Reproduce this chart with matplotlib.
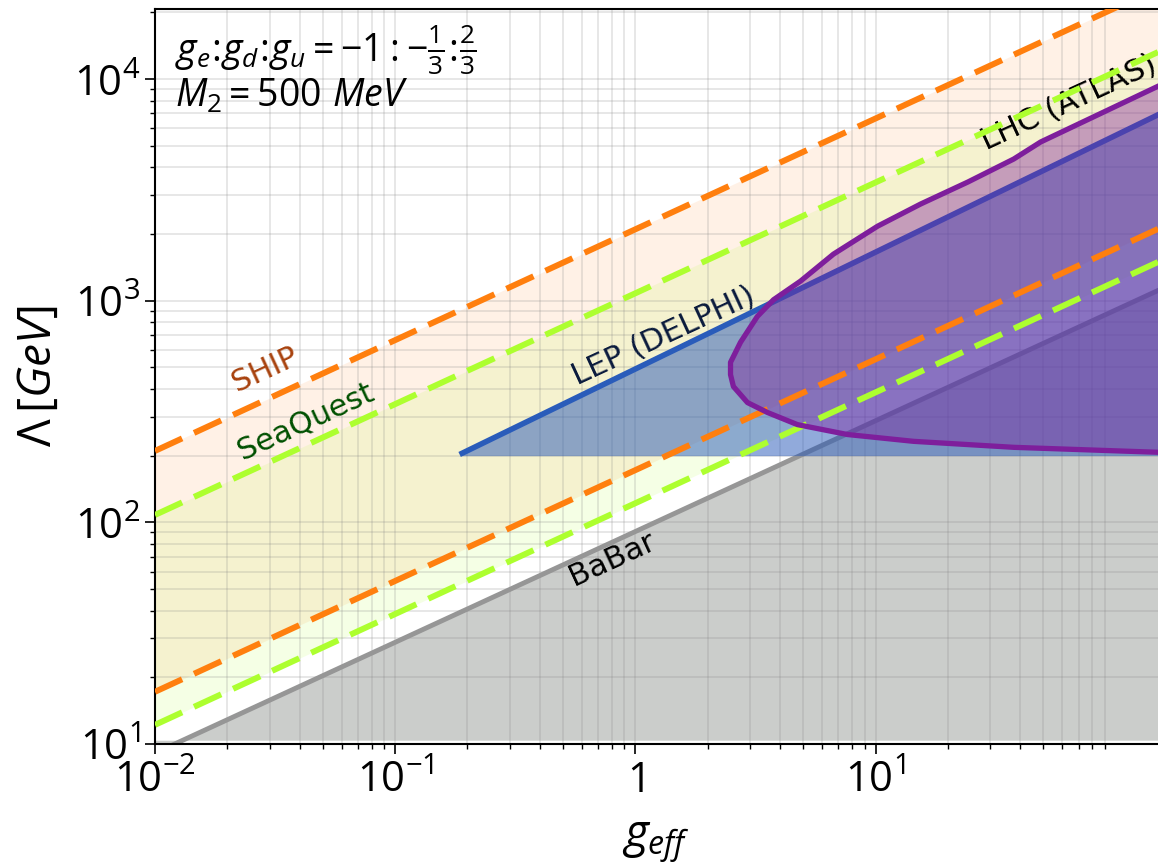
import matplotlib
matplotlib.use("Agg")
import matplotlib.pyplot as plt

plt.rcParams['mathtext.fontset'] = 'custom'
plt.rcParams['mathtext.rm'] = 'Open Sans'
plt.rcParams['mathtext.it'] = 'Open Sans:italic'
plt.rcParams['mathtext.bf'] = 'Open Sans:bold'

# projected / excluded bounds, Lambda in GeV vs g_eff
g_line = [1e-2, 150]
ship_hi = [210, 25700]
ship_lo = [17.2, 2107]
seaquest_hi = [108, 13230]
seaquest_lo = [12.2, 1494]
babar = [9.1, 1112]
babar_floor = 10.4

lep_g = [0.19, 150]
lep = [205, 6900]
lep_floor = 200

# LHC (ATLAS) contour
lhc_g = [160, 151, 48.7, 37.6, 24.2, 15.4, 10.2, 6.68, 4.87, 3.76, 3.22, 2.74,
         2.49, 2.49, 2.56, 2.93, 3.55, 4.73, 7.64, 14.4, 37.6, 151, 160]
lhc_L = [9520, 9310, 5200, 4355, 3428, 2729, 2168, 1622, 1225, 1010, 849, 649,
         527, 464, 410, 347, 313, 276, 249, 232, 218, 207, 206]

xticks = [1e-2, 1e-1, 1, 10]
xticklabels = [r'$10^{-2}$', r'$10^{-1}$', r'$1$', r'$10^{1}$']
yticks = [10, 100, 1000, 10000]
yticklabels = [r'$10^{1}$', r'$10^{2}$', r'$10^{3}$', r'$10^{4}$']

fig = plt.figure(figsize=(11.58, 8.67), dpi=100)
ax = fig.add_axes([155/1158, 1-744/867, 1-155/1158, 735/867])
ax.set_xscale('log')
ax.set_yscale('log')

dash = (0, (5, 2.2))

# BaBar
ax.fill_between(g_line, babar_floor, babar, color='#8c918c', alpha=0.45, lw=0, zorder=1)
ax.plot(g_line, babar, color='#969696', lw=3.5, zorder=2)

# SHIP / SeaQuest bands
ax.fill_between(g_line, ship_lo, ship_hi, color='#ff7f0e', alpha=0.1, lw=0, zorder=1)
ax.fill_between(g_line, seaquest_lo, seaquest_hi, color='greenyellow', alpha=0.12, lw=0, zorder=1)

# LEP
ax.fill_between(lep_g, lep_floor, lep, color='#2456b8', alpha=0.5, lw=0, zorder=2)
ax.plot(lep_g, lep, color='#2a5cba', lw=4, zorder=2)

# LHC
ax.fill(lhc_g, lhc_L, color='#7e1e9c', alpha=0.4, lw=0, zorder=3)

for y in (ship_hi, ship_lo):
    ax.plot(g_line, y, color='#ff7f0e', lw=4.3, ls=dash, zorder=4)
for y in (seaquest_hi, seaquest_lo):
    ax.plot(g_line, y, color='greenyellow', lw=4.3, ls=dash, zorder=4)

ax.plot(lhc_g, lhc_L, color='#7e1e9c', lw=3.8, zorder=5)

rot = 24.8
ax.text(0.0287, 490, 'SHIP', color='#a8420e', fontsize=22, rotation=rot, ha='center', va='center')
ax.text(0.0422, 285, 'SeaQuest', color='#005000', fontsize=22, rotation=rot, ha='center', va='center')
ax.text(1.31, 690, 'LEP (DELPHI)', color='#0a1a3c', fontsize=22, rotation=rot, ha='center', va='center')
ax.text(63.7, 7800, 'LHC (ATLAS)', color='black', fontsize=22, rotation=rot, ha='center', va='center')
ax.text(0.80, 68, 'BaBar', color='black', fontsize=22, rotation=rot, ha='center', va='center')

ax.text(0.02, 0.945, r'$g_e\!:\!g_d\!:\!g_u = -1 : -\frac{1}{3}\!:\!\frac{2}{3}$',
        transform=ax.transAxes, fontsize=27, va='center')
ax.text(0.02, 0.882, r'$M_2 = 500\ MeV$', transform=ax.transAxes, fontsize=27, va='center')

ax.set_xlim(1e-2, 150)
ax.set_ylim(10, 20700)
ax.set_xticks(xticks)
ax.set_xticklabels(xticklabels, fontsize=30)
ax.set_yticks(yticks)
ax.set_yticklabels(yticklabels, fontsize=30)
ax.tick_params(which='major', length=7, width=1.2)
ax.tick_params(which='minor', length=3.5, width=1)
ax.grid(True, which='both', color='gray', alpha=0.22, lw=1.2)
ax.spines['right'].set_visible(False)
for s in ('left', 'bottom', 'top'):
    ax.spines[s].set_linewidth(1.5)

ax.set_xlabel(r'$g_{eff}$', fontsize=33, labelpad=14)
ax.set_ylabel(r'$\Lambda\,[GeV]$', fontsize=33, labelpad=10)

fig.savefig('out.png', dpi=100)
